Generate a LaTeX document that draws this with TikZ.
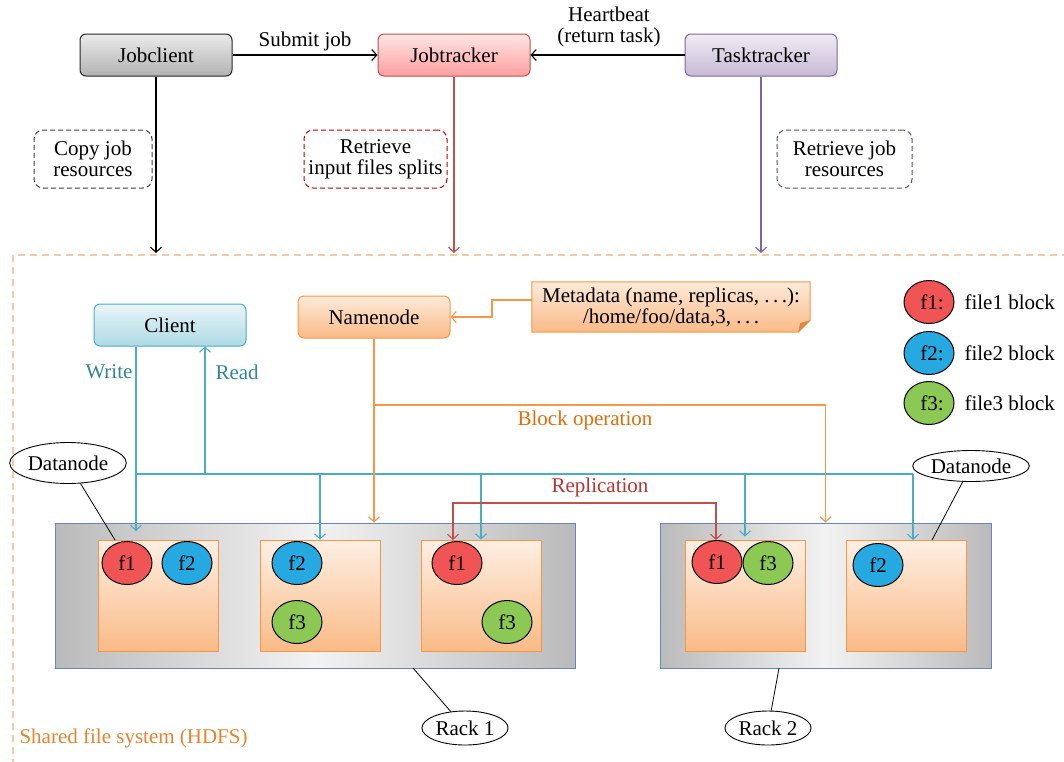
\documentclass[tikz,border=0pt]{standalone}
\usepackage{fontspec}
\setmainfont{Liberation Serif}
\usetikzlibrary{arrows.meta,shapes.geometric,backgrounds,calc}
\definecolor{cyl}{HTML}{4BACC6}
\definecolor{cytext}{HTML}{31859C}
\definecolor{orl}{HTML}{F79646}
\definecolor{ortext}{HTML}{E36C09}
\definecolor{redl}{HTML}{C0504D}
\definecolor{redtext}{HTML}{B83330}
\definecolor{purl}{HTML}{8064A2}
\definecolor{purd}{HTML}{5F497A}
\definecolor{rackb}{HTML}{6386C4}
\definecolor{fred}{HTML}{F05454}
\definecolor{fblue}{HTML}{26A8E0}
\definecolor{fgreen}{HTML}{8CC854}
\definecolor{hdfs}{HTML}{FAC8A0}
\begin{document}
\begin{tikzpicture}[x=1pt,y=-1pt,font=\fontsize{21}{24}\selectfont,
  arr/.style={-{Straight Barb[length=5pt,width=11pt]}},
  ln/.style={line width=1.1pt},
  topbox/.style={rounded corners=6pt,minimum width=152pt,minimum height=42pt,line width=1pt},
  note/.style={dashed,rounded corners=9pt,align=center,line width=1pt,minimum height=58pt,dash pattern=on 5pt off 3pt},
  blk/.style={ellipse,draw=black,line width=1pt,minimum width=50pt,minimum height=43pt,inner sep=0pt},
  lbl/.style={ellipse,draw=black,line width=0.9pt,inner sep=1pt},
  inbox/.style={draw=orl,line width=1pt,top color=orl!15,bottom color=orl!65,minimum width=120pt,minimum height=111pt},
  rack/.style={draw=rackb,line width=1pt,left color=black!27,right color=black!27,middle color=black!5},
  leader/.style={line width=0.8pt,black}]
\useasboundingbox (0,0) rectangle (1064,761);
% HDFS region
\begin{scope}
\clip (0,0) rectangle (1064,761);
\draw[hdfs,line width=1.2pt,dash pattern=on 7pt off 5pt] (13,255) rectangle (1100,800);
\end{scope}
\node[anchor=west,text=ortext!85] (hdl) at (16,738) {Shared file system (HDFS)};
% top row
\node[topbox,draw=black!85,top color=black!8,bottom color=black!30] (jc) at (156,55) {Jobclient};
\node[topbox,draw=redl,top color=red!10,bottom color=red!38] (jt) at (454,55) {Jobtracker};
\node[topbox,draw=purl,top color=purl!12,bottom color=purl!45] (tt) at (761,55) {Tasktracker};
\draw[ln,arr] (jc.east) -- (jt.west) node[midway,above=0pt] (sj) {Submit job};
\draw[ln,arr] (tt.west) -- (jt.east);
\node[align=center] (hb) at (609,27) {Heartbeat\\[-3pt](return task)};
\node[note,draw=black!75,minimum width=118pt] (cjr) at (93,159) {Copy job\\[-3pt]resources};
\node[note,draw=red!75!black,minimum width=143pt] (rif) at (375.5,159) {Retrieve\\[-3pt]input files splits};
\node[note,draw=purd,minimum width=135pt] (rjr) at (844.5,159) {Retrieve job\\[-3pt]resources};
\coordinate (hdtop) at (0,253);
\draw[ln,arr] (jc.south) -- (jc.south |- hdtop);
\draw[ln,arr,redl] (jt.south) -- (jt.south |- hdtop);
\draw[ln,arr,purl] (tt.south) -- (tt.south |- hdtop);
% HDFS content
\node[topbox,draw=cyl,top color=cyl!12,bottom color=cyl!45] (cl) at (170,325) {Client};
\node[topbox,draw=orl,top color=orl!20,bottom color=orl!65] (nn) at (374,317) {Namenode};
\node[align=center,minimum width=278pt,minimum height=50pt,inner sep=2pt] (meta) at (671,307) {Metadata (name, replicas, .\,.\,.):\\[-3pt]/home/foo/data,3, .\,.\,.};
\begin{scope}[on background layer]
\path[draw=orl,line width=1pt,top color=orl!20,bottom color=orl!65] (meta.north west) -- (meta.north east) -- ($(meta.south east)+(0,-12)$) -- ($(meta.south east)+(-12,0)$) -- (meta.south west) -- cycle;
\fill[orl!90!black] ($(meta.south east)+(0,-12)$) -- ($(meta.south east)+(-10,-9)$) -- ($(meta.south east)+(-12,0)$) -- cycle;
\end{scope}
\coordinate (m0) at (532,300);
\draw[ln,orl,arr] (m0) -- ++(-40,0) |- (nn.east);
% racks
\node[rack,minimum width=520pt,minimum height=145pt] (rk1) at (315,595.5) {};
\node[rack,minimum width=331pt,minimum height=145pt] (rk2) at (825.5,595.5) {};
\node[inbox] (b1) at (158,595.5) {};
\node[inbox] (b2) at (320,595.5) {};
\node[inbox] (b3) at (481,595.5) {};
\node[inbox] (b4) at (745,595.5) {};
\node[inbox] (b5) at (906,595.5) {};
\node[blk,fill=fred] (e11) at (127,563) {f1};
\node[blk,fill=fblue] (e12) at (187,563) {f2};
\node[blk,fill=fblue] (e22) at (297,563) {f2};
\node[blk,fill=fgreen] (e23) at (297,622) {f3};
\node[blk,fill=fred] (e31) at (457,563) {f1};
\node[blk,fill=fgreen] (e33) at (507,622) {f3};
\node[blk,fill=fred] (e41) at (717,562) {f1};
\node[blk,fill=fgreen] (e43) at (768,563) {f3};
\node[blk,fill=fblue] (e52) at (878,565) {f2};
% legend
\node[blk,fill=fred] (g1) at (929,302) {\hspace*{6pt}f1:};
\node[blk,fill=fblue] (g2) at (929,353) {\hspace*{6pt}f2:};
\node[blk,fill=fgreen] (g3) at (929,403) {\hspace*{6pt}f3:};
\node[anchor=west] (t1) at (961,302) {file1 block};
\node[anchor=west] (t2) at (961,353) {file2 block};
\node[anchor=west] (t3) at (961,403) {file3 block};
% client write/read bus
\coordinate (w0) at (136,347);
\coordinate (bus) at (136,474);
\coordinate (w1) at (136,531);
\coordinate (r0) at (205,474);
\coordinate (busend) at (913,474);
\coordinate (t5) at (913,540);
\draw[ln,cyl,arr] (w0) -- (w1);
\draw[ln,cyl,arr] (r0) -- (r0 |- cl.south);
\draw[ln,cyl] (bus) -- (busend);
\draw[ln,cyl,arr] (b2.north |- bus) -- (b2.north);
\draw[ln,cyl,arr] (b3.north |- bus) -- (b3.north);
\draw[ln,cyl,arr] (b4.north |- bus) -- ($(b4.north)+(0,-3)$);
\draw[ln,cyl,arr] (busend) -- (t5);
\node[anchor=east,text=cytext] (wl) at (136,372) {Write};
\node[anchor=west,text=cytext] (rl) at (212,372) {Read};
% block operation
\coordinate (bo) at (374,405);
\draw[ln,orl,arr] (nn.south) -- (nn.south |- rk1.north);
\draw[ln,orl,arr] (bo) -| (rk2.north);
\node[text=ortext] (bol) at (585,420) {Block operation};
% replication
\coordinate (ra) at (453,540);
\coordinate (rb) at (716,540);
\draw[ln,redl,{Straight Barb[length=5pt,width=11pt]}-{Straight Barb[length=5pt,width=11pt]}] (ra) -- ++(0,-37) -| (rb);
\node[text=redtext] (repl) at (600,487) {Replication};
% datanode labels
\node[lbl,minimum width=102pt,minimum height=41pt] (dn1) at (68,463) {Datanode};
\node[lbl,minimum width=101pt,minimum height=31pt] (dn2) at (971,466) {Datanode};
\coordinate (dn1e) at (115,540);
\coordinate (dn2e) at (932,540);
\draw[leader] (dn1) -- (dn1e);
\draw[leader] (dn2) -- (dn2e);
% rack labels
\node[lbl,minimum width=68pt,minimum height=34pt] (rl1) at (465,728) {Rack 1};
\node[lbl,minimum width=67pt,minimum height=34pt] (rl2) at (768,728) {Rack 2};
\coordinate (rk1e) at (413,668);
\coordinate (rk2e) at (779,668);
\draw[leader] (rk1e) -- (rl1);
\draw[leader] (rk2e) -- (rl2);
\end{tikzpicture}
\end{document}
